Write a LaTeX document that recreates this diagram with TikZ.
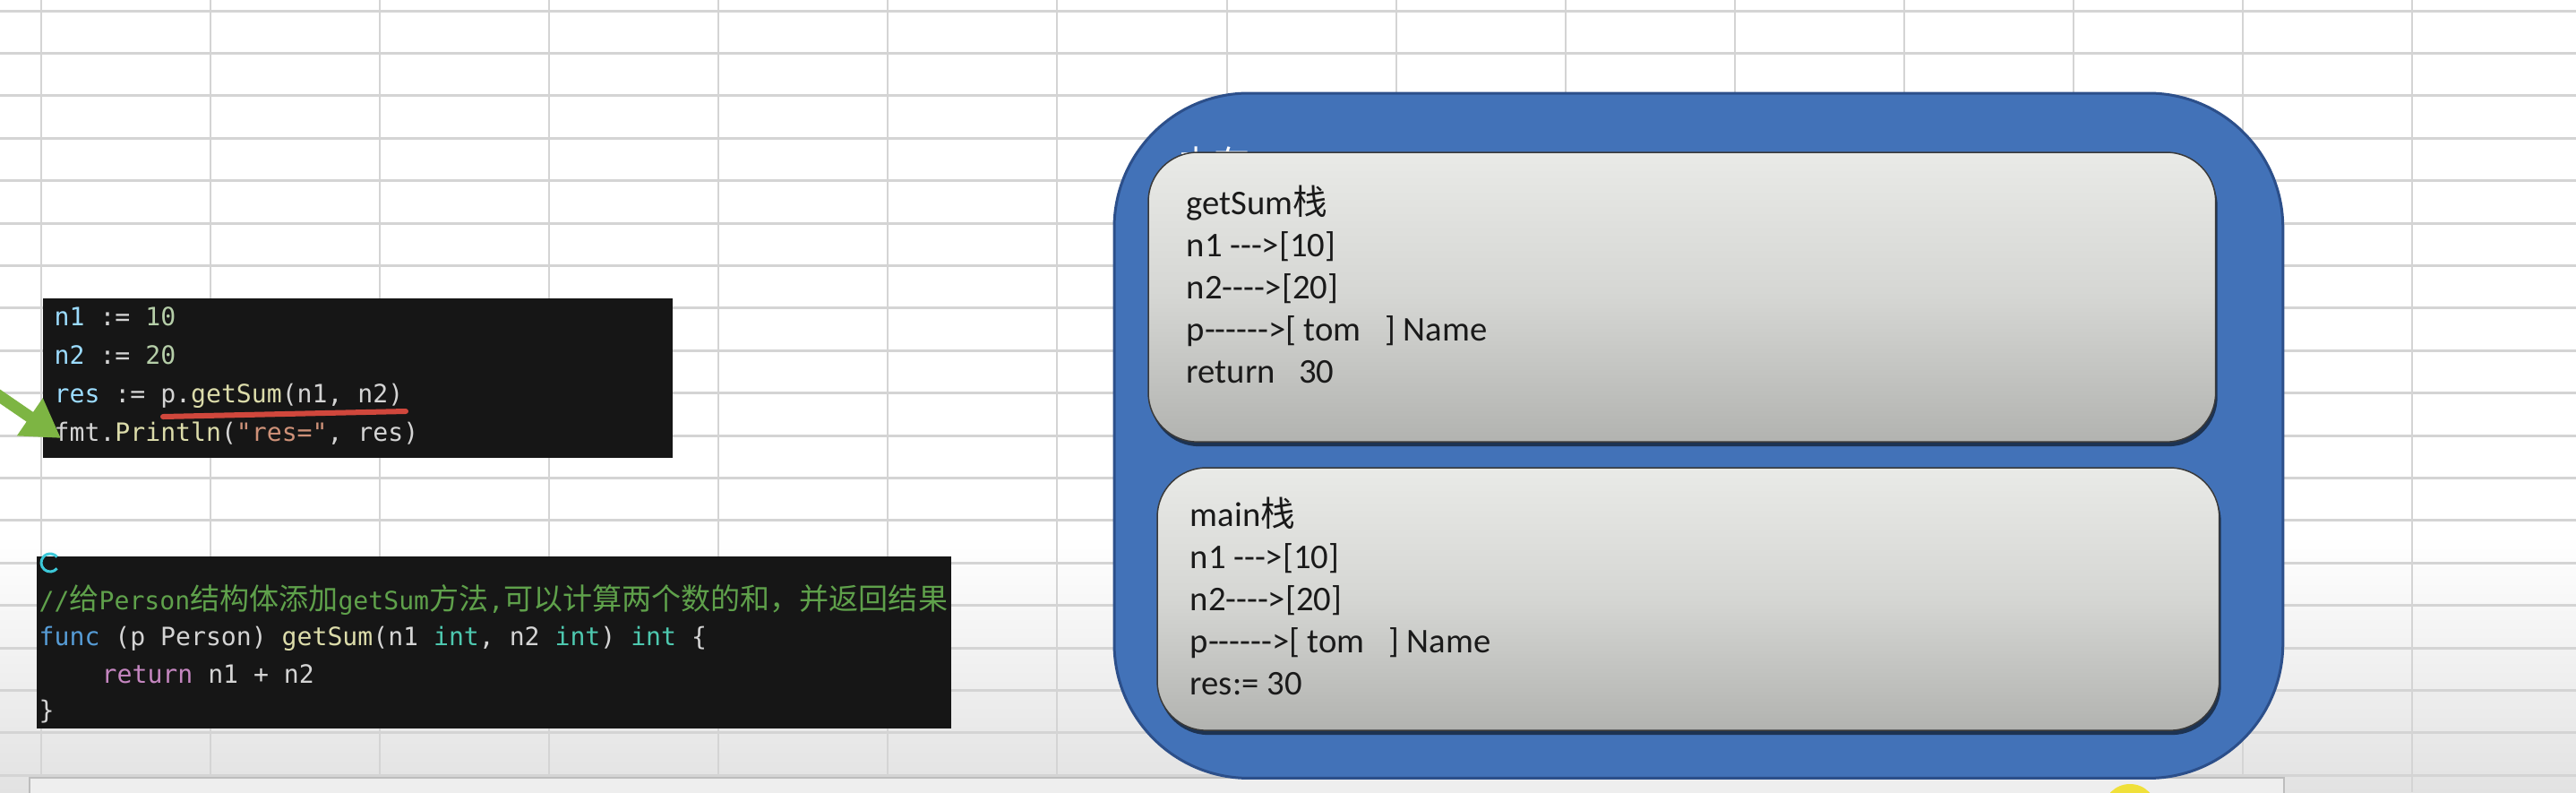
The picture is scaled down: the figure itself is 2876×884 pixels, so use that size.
\documentclass[tikz,border=0pt]{standalone}
\usepackage{fontspec}
\setmainfont{Carlito}
\newfontfamily\labfont[Ligatures=TeXOff]{Carlito}
\newfontfamily\codefont[Ligatures=TeXOff]{DejaVu Sans Mono}
\newfontfamily\cjkfont{Noto Sans CJK SC}
\newcommand\cjkc[1]{{\cjkfont\fontsize{9.4pt}{10pt}\selectfont #1}}
\newcommand\cjkl[1]{{\cjkfont #1}}
\usetikzlibrary{arrows.meta,shadows}
\definecolor{gridC}{HTML}{D4D4D4}
\definecolor{bgB}{HTML}{E2E2E2}
\definecolor{codeBg}{HTML}{161616}
\definecolor{cPlain}{HTML}{D4D4D4}
\definecolor{cVar}{HTML}{9CDCFE}
\definecolor{cNum}{HTML}{B5CEA8}
\definecolor{cFun}{HTML}{DCDCAA}
\definecolor{cStr}{HTML}{CE9178}
\definecolor{cKw}{HTML}{569CD6}
\definecolor{cType}{HTML}{4EC9B0}
\definecolor{cCtl}{HTML}{C586C0}
\definecolor{cCom}{HTML}{5FA14B}
\definecolor{memF}{HTML}{4272B8}
\definecolor{memD}{HTML}{2C4F8A}
\definecolor{boxT}{HTML}{E9EAE7}
\definecolor{boxM}{HTML}{D5D6D3}
\definecolor{boxB}{HTML}{B2B3B0}
\definecolor{boxD}{HTML}{3A3A3A}
\definecolor{labC}{HTML}{1A1A1A}
\definecolor{arrowG}{HTML}{7DB543}
\definecolor{ulR}{HTML}{D0473C}
\definecolor{ringC}{HTML}{3CC8D8}
\definecolor{stripF}{HTML}{EEEEEE}
\definecolor{stripD}{HTML}{BDBDBD}
\definecolor{yelC}{HTML}{F0E03A}
\tikzset{
  gridh/.style={draw=gridC, line width=0.03cm},
  gridv/.style={draw=gridC, line width=0.02cm},
  codebox/.style={fill=codeBg, inner sep=0pt, outer sep=0pt, anchor=north west},
  codeline/.style={anchor=base west, inner sep=0pt, font=\codefont\fontsize{8pt}{9.6pt}\selectfont, text=cPlain},
  memory/.style={draw=memD, fill=memF, line width=0.03cm, rounded corners=1.5cm, inner sep=0pt, outer sep=0pt, anchor=north west},
  stackbox/.style={draw=boxD, line width=0.015cm, rounded corners=0.55cm, top color=boxT, bottom color=boxB, middle color=boxM, inner sep=0pt, outer sep=0pt, anchor=north west,
    drop shadow={shadow xshift=0.02cm, shadow yshift=-0.05cm, opacity=0.55, fill=black}},
  stackline/.style={anchor=base west, inner sep=0pt, font=\labfont\fontsize{11pt}{13pt}\selectfont, text=labC},
  greenarrow/.style={draw=arrowG, line width=0.13cm, -{Triangle[length=0.42cm, width=0.48cm, fill=arrowG]}},
  redline/.style={draw=ulR, line width=0.06cm, line cap=round},
}
\begin{document}
\begin{tikzpicture}[x=0.01cm, y=-0.01cm]
\useasboundingbox (0,0) rectangle (2876,884);
\clip (0,0) rectangle (2876,884);
% background
\fill[white] (0,0) rectangle (2876,600);
\shade[top color=white, bottom color=bgB] (0,598) rectangle (2876,884);
% spreadsheet grid
\foreach \k in {0,...,18} { \draw[gridh] (0,{12+47.4*\k}) -- (2876,{12+47.4*\k}); }
\foreach \k in {0,...,14} { \draw[gridv] ({46+189.07*\k},0) -- ({46+189.07*\k},884); }
% bottom strip
\draw[fill=stripF, draw=stripD, line width=0.02cm] (33,868) rectangle (2550,900);

% code box 1
\node[codebox, minimum width=7.03cm, minimum height=1.78cm] (callcode) at (48,333) {};
\node[codeline] (c1) at (60,363) {\textcolor{cVar}{n1} := \textcolor{cNum}{10}};
\node[codeline] (c2) at (60,406) {\textcolor{cVar}{n2} := \textcolor{cNum}{20}};
\node[codeline] (c3) at (60,449) {\textcolor{cVar}{res} := p.\textcolor{cFun}{getSum}(n1, n2)};
\node[codeline] (c4) at (60,492) {fmt.\textcolor{cFun}{Println}(\textcolor{cStr}{"res="}, res)};
\coordinate (ulA) at (182,465);
\coordinate (ulB) at (453,459);
\draw[redline] (ulA) -- (ulB);
\coordinate (arrS) at (-40,415);
\coordinate (arrT) at (68,489);
\draw[greenarrow] (arrS) -- (arrT);

% code box 2
\node[codebox, minimum width=10.20cm, minimum height=1.92cm] (methodcode) at (41,621) {};
\node[codeline, text=cCom] (d1) at (43,680) {//\cjkc{给}Person\cjkc{结构体添加}getSum\cjkc{方法},\cjkc{可以计算两个数的和，并返回结果}};
\node[codeline] (d2) at (43,720) {\textcolor{cKw}{func} (p Person) \textcolor{cFun}{getSum}(n1 \textcolor{cType}{int}, n2 \textcolor{cType}{int}) \textcolor{cType}{int} \{};
\node[codeline] (d3) at (113,762) {\textcolor{cCtl}{return} n1 + n2};
\node[codeline] (d4) at (43,802) {\}};
\draw[ringC, line width=0.03cm] (56,628) ++(40:10) arc[start angle=40, end angle=320, radius=10];

% memory block
\node[memory, minimum width=13.04cm, minimum height=7.64cm] (mem) at (1244,104) {};
\node[anchor=base west, inner sep=0pt, text=white, font=\cjkfont\fontsize{11.4pt}{12pt}\selectfont] (memlabel) at (1315,197) {内存};

% getSum stack
\node[stackbox, minimum width=11.91cm, minimum height=3.23cm] (gsbox) at (1282,170) {};
\node[stackline] (g1) at (1324,239) {getSum\cjkl{栈}};
\node[stackline] (g2) at (1324,286) {n1 --->[10]};
\node[stackline] (g3) at (1324,333) {n2---->[20]};
\node[stackline] (g4) at (1324,380) {p------>[ tom\ \ \ ] Name};
\node[stackline] (g5) at (1324,427) {return\ \ \ 30};

% main stack
\node[stackbox, minimum width=11.85cm, minimum height=2.93cm] (mainbox) at (1292,522) {};
\node[stackline] (m1) at (1328,587) {main\cjkl{栈}};
\node[stackline] (m2) at (1328,634) {n1 --->[10]};
\node[stackline] (m3) at (1328,681) {n2---->[20]};
\node[stackline] (m4) at (1328,728) {p------>[ tom\ \ \ ] Name};
\node[stackline] (m5) at (1328,775) {res:= 30};

% cursor highlight
\fill[yelC] (2378,905) circle[radius=0.3cm];
\end{tikzpicture}
\end{document}
